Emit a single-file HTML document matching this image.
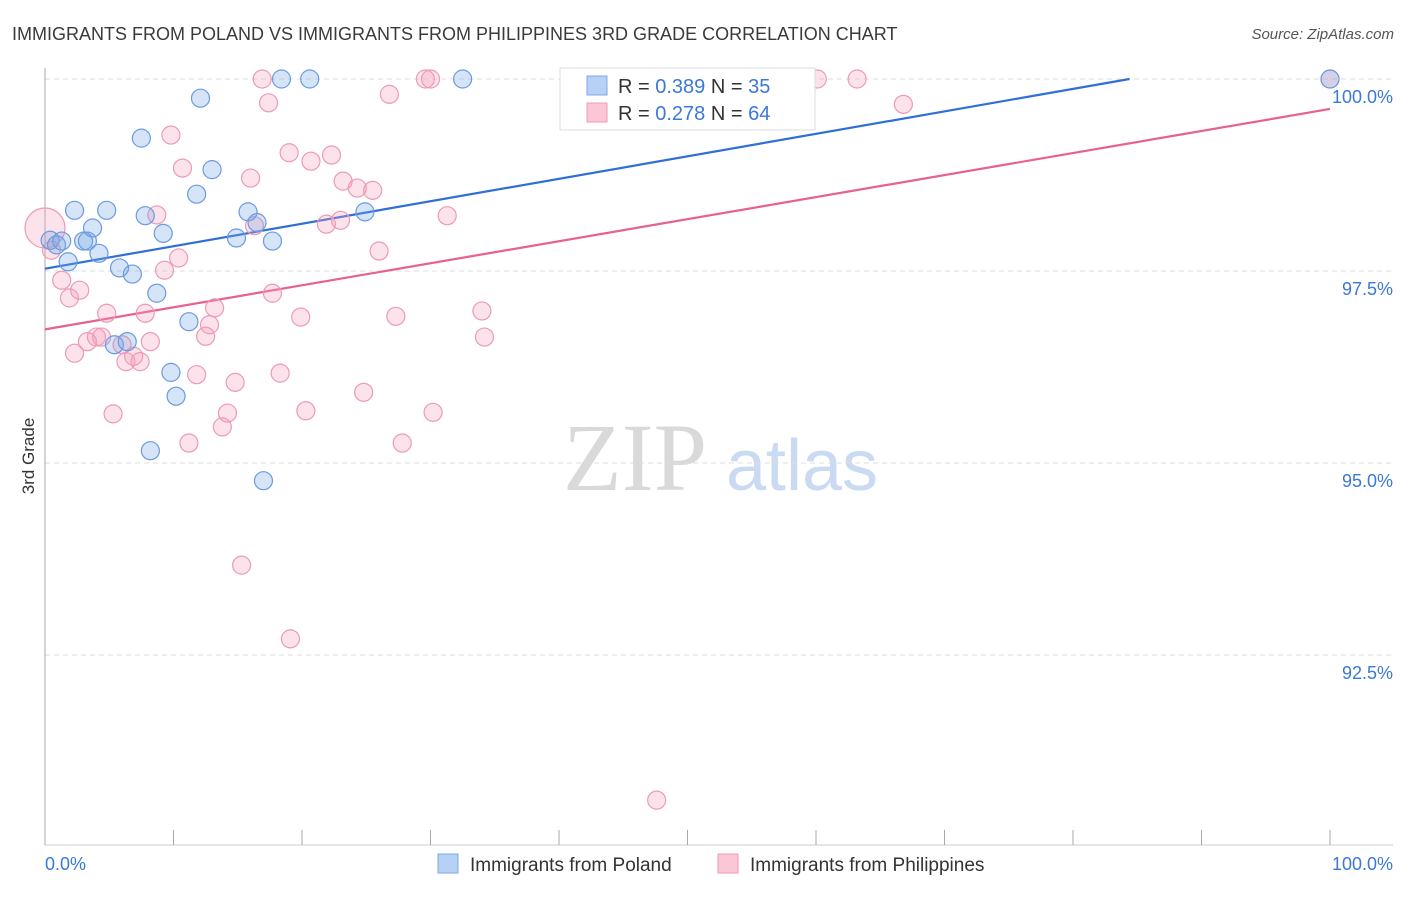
<!DOCTYPE html>
<html><head><meta charset="utf-8"><style>
body{margin:0;background:#fff;font-family:"Liberation Sans",sans-serif}
</style></head><body>
<svg id="chart" width="1406" height="892" xmlns="http://www.w3.org/2000/svg" font-family="Liberation Sans, sans-serif">
<text x="12" y="40" font-size="18" fill="#3a3a3a">IMMIGRANTS FROM POLAND VS IMMIGRANTS FROM PHILIPPINES 3RD GRADE CORRELATION CHART</text>
<text x="1394" y="39" font-size="15" fill="#555" font-style="italic" text-anchor="end">Source: ZipAtlas.com</text>
<text transform="translate(34,456) rotate(-90)" font-size="17" fill="#333" text-anchor="middle">3rd Grade</text>
<g>
<text x="635" y="490" font-size="96" fill="#d9d9d9" font-family="Liberation Serif, serif" text-anchor="middle">ZIP</text>
<text x="802" y="490" font-size="72" fill="#c9daf2" text-anchor="middle">atlas</text>
</g>
<g id="grid"></g>
<g id="axes"></g>
<g id="trend"></g>
<g id="points"></g>
<g>
<rect x="560" y="68" width="255" height="62" fill="#fff" stroke="#ddd"/>
<rect x="587" y="76" width="20" height="19" fill="#b7d1f5" stroke="#7fa8e6"/>
<rect x="587" y="103" width="20" height="19" fill="#fbc6d6" stroke="#f09ab6"/>
<text x="618" y="93" font-size="20" fill="#333">R = <tspan fill="#3b78d8">0.389</tspan>   N = <tspan fill="#3b78d8">35</tspan></text>
<text x="618" y="120" font-size="20" fill="#333">R = <tspan fill="#3b78d8">0.278</tspan>   N = <tspan fill="#3b78d8">64</tspan></text>
</g>
<g>
<rect x="438" y="854" width="20" height="19" fill="#b7d1f5" stroke="#7fa8e6"/>
<text x="470" y="871" font-size="19" fill="#333">Immigrants from Poland</text>
<rect x="718" y="854" width="20" height="19" fill="#fbc6d6" stroke="#f09ab6"/>
<text x="750" y="871" font-size="19" fill="#333">Immigrants from Philippines</text>
</g>
</svg>
<script>
const yTicks=[100,97.5,95,92.5];
const yTickLabels=["100.0%","97.5%","95.0%","92.5%"];
const xTickLabels=["0.0%","100.0%"];
const polandX=[0.4,0.9,1.3,1.8,2.3,3.0,3.3,3.7,4.2,4.8,5.8,6.8,7.5,7.8,8.7,9.2,9.8,10.2,11.2,8.2,11.8,12.1,13.0,14.9,15.8,16.5,17.7,17.0,18.4,20.6,24.9,32.5,5.4,6.4,100];
const polandY=[97.90,97.84,97.89,97.62,98.29,97.89,97.89,98.06,97.73,98.29,97.54,97.46,99.23,98.22,97.21,97.99,96.18,95.87,96.84,95.16,98.50,99.75,98.82,97.93,98.27,98.13,97.89,94.77,100,100,98.27,100,96.54,96.58,100];
const philX=[0,0.5,1.3,1.9,2.3,2.7,4.0,4.4,4.8,3.3,5.3,6.0,6.3,6.9,7.4,7.8,8.2,8.7,9.3,9.8,10.4,10.7,11.2,11.8,12.5,12.8,13.2,13.8,14.2,14.8,15.3,16.0,16.3,16.9,17.4,17.7,18.3,19.0,19.1,19.9,20.3,20.7,21.9,22.3,23.2,23.0,24.3,24.8,25.5,26.0,26.8,27.3,27.8,29.6,30.0,30.2,31.3,34.0,34.2,47.6,60.1,63.2,66.8,100];
const philY=[98.06,97.77,97.38,97.15,96.43,97.25,96.64,96.64,96.95,96.58,95.64,96.54,96.32,96.39,96.32,96.95,96.58,98.23,97.51,99.27,97.67,98.84,95.26,96.15,96.65,96.80,97.02,95.47,95.65,96.05,93.67,98.71,98.09,100,99.69,97.21,96.17,99.04,92.71,96.90,95.68,98.93,98.11,99.01,98.67,98.16,98.58,95.92,98.55,97.76,99.80,96.91,95.26,100,100,95.66,98.22,96.98,96.64,90.61,100,100,99.67,100];
const polandTrend=[[0,97.53],[84.4,100]];
const philTrend=[[0,96.74],[100,99.61]];
const NS="http://www.w3.org/2000/svg";
const sx=v=>45+v*12.85;
const sy=v=>79+(100-v)*76.8;
function mk(tag,attrs,parent){const e=document.createElementNS(NS,tag);for(const k in attrs)e.setAttribute(k,attrs[k]);document.getElementById(parent).appendChild(e);return e;}
yTicks.forEach((t,i)=>{
 const g=mk('line',{x1:45,x2:1393,y1:sy(t),y2:sy(t),stroke:'#ddd','stroke-dasharray':'5,4'},'grid');
 
 
 const l=mk('text',{x:1393,y:sy(t)+24,'font-size':18,fill:'#3b78d8','text-anchor':'end'},'grid');
 l.textContent=yTickLabels[i];
 
 
});
const ax=mk('line',{x1:45,x2:45,y1:68,y2:845,stroke:'#aaa'},'axes');


const bx=mk('line',{x1:45,x2:1393,y1:845,y2:845,stroke:'#ccc'},'axes');


for(let i=0;i<=10;i++){
 const t=mk('line',{x1:sx(i*10),x2:sx(i*10),y1:830,y2:845,stroke:'#aaa'},'axes');
 
 
}
[[0,'start'],[100,'end']].forEach((p,i)=>{
 const l=mk('text',{x:p[0]===0?45:1393,y:870,'font-size':18,fill:'#3b78d8','text-anchor':p[1]},'axes');
 l.textContent=xTickLabels[i];
 
 
});
[[polandTrend,'#2f6fd6','poland-trend-line'],[philTrend,'#e8608f','philippines-trend-line']].forEach(([tr,c,n])=>{
 const l=mk('line',{x1:sx(tr[0][0]),y1:sy(tr[0][1]),x2:sx(tr[1][0]),y2:sy(tr[1][1]),stroke:c,'stroke-width':2.2},'trend');
 
 
});
philX.forEach((x,i)=>{
 const c=mk('circle',{cx:sx(x),cy:sy(philY[i]),r:i===0?20:9,fill:'rgba(244,160,188,0.3)',stroke:'#ec9ab5','stroke-width':1.2},'points');
 
 
});
polandX.forEach((x,i)=>{
 const c=mk('circle',{cx:sx(x),cy:sy(polandY[i]),r:9,fill:'rgba(120,165,230,0.3)',stroke:'#6a9be0','stroke-width':1.2},'points');
 
 
});
</script>
</body></html>
